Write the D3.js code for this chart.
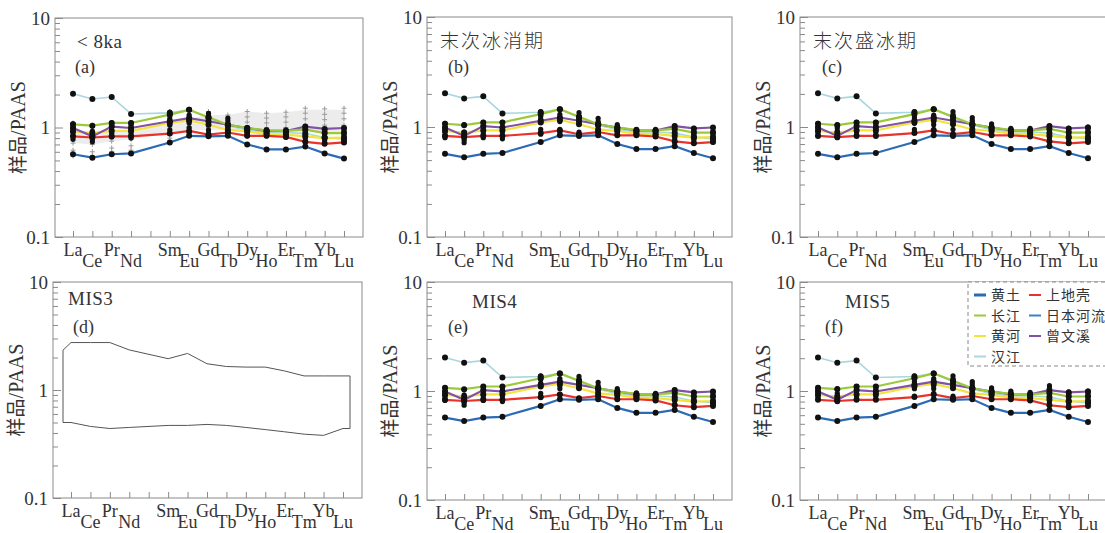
<!DOCTYPE html>
<html>
<head>
<meta charset="utf-8">
<script src="https://cdn.jsdelivr.net/npm/d3@7"></script>
<style>
  body { margin: 0; background: #fff; }
  text { font-family: "Liberation Serif", "DejaVu Serif", serif; fill: #333; }
  .cjk { font-family: "Noto Sans CJK SC", sans-serif; }
</style>
</head>
<body>
<svg id="chart" width="1105" height="533"></svg>
<script>
// element positions on the x axis (Pm has a tick but no data)
const elements = ["La", "Ce", "Pr", "Nd", "Pm", "Sm", "Eu", "Gd", "Tb", "Dy", "Ho", "Er", "Tm", "Yb", "Lu"];
const ree = ["La", "Ce", "Pr", "Nd", "Sm", "Eu", "Gd", "Tb", "Dy", "Ho", "Er", "Tm", "Yb", "Lu"];
const yMajor = [0.1, 1, 10];
const yMinor = [0.2, 0.3, 0.4, 0.5, 0.6, 0.7, 0.8, 0.9, 2, 3, 4, 5, 6, 7, 8, 9];

// reference curves (sample / PAAS)
const refNames  = ["汉江", "黄河", "曾文溪", "长江", "上地壳", "黄土"];
const refColors = ["#a9d6df", "#f3e43c", "#8152a6", "#9cc93a", "#e8322c", "#2c6bb4"];
const refValues = [
  [2.03, 1.82, 1.90, 1.33, 1.36, 1.45, 1.22, 1.04, 0.95, 0.90, 0.90, 0.88, 0.81, 0.78],
  [0.92, 0.89, 0.93, 0.93, 1.10, 1.16, 1.06, 0.95, 0.92, 0.87, 0.86, 0.83, 0.80, 0.81],
  [0.99, 0.83, 1.02, 0.99, 1.14, 1.22, 1.14, 1.06, 0.99, 0.93, 0.93, 1.02, 0.97, 0.99],
  [1.07, 1.04, 1.10, 1.10, 1.31, 1.45, 1.24, 1.06, 0.99, 0.94, 0.93, 0.96, 0.89, 0.89],
  [0.83, 0.81, 0.83, 0.83, 0.88, 0.93, 0.86, 0.90, 0.84, 0.84, 0.82, 0.74, 0.71, 0.73],
  [0.57, 0.53, 0.57, 0.58, 0.73, 0.84, 0.83, 0.84, 0.70, 0.63, 0.63, 0.67, 0.58, 0.52]
];

// legend order as in panel (f)
const legendNames  = ["黄土", "上地壳", "长江", "日本河流", "黄河", "曾文溪", "汉江"];
const legendColors = ["#2c6bb4", "#e8322c", "#9cc93a", "#3a80c6", "#f3e43c", "#8152a6", "#a9d6df"];

// core samples (black dots)
const samplesA = [
  [1.08, 1.03, 1.10, 1.10, 1.38, 1.30, 1.35, 1.22, 0.95, 0.95, 0.95, 1.02, 0.95, 0.95],
  [1.02, 0.92, 1.05, 1.05, 1.30, 1.20, 1.28, 1.15, 0.92, 0.93, 0.92, 0.97, 0.92, 0.90],
  [0.96, 0.88, 1.00, 0.98, 1.20, 1.15, 1.20, 1.08, 0.90, 0.90, 0.90, 0.92, 0.88, 0.85],
  [0.90, 0.82, 0.94, 0.92, 1.12, 1.10, 1.12, 1.00, 0.88, 0.88, 0.87, 0.86, 0.83, 0.80],
  [0.84, 0.78, 0.88, 0.86, 1.05, 1.00, 0.95, 0.95, 0.86, 0.86, 0.84, 0.80, 0.77, 0.77],
  [0.78, 0.74, 0.82, 0.80, 0.95, 0.90, 0.88, 0.90, 0.84, 0.84, 0.82, 0.75, 0.73, 0.74]
];
const samplesB = [
  [1.08, 1.05, 1.10, 1.10, 1.38, 1.30, 1.35, 1.20, 1.05, 0.95, 0.95, 1.02, 0.97, 0.92],
  [1.00, 0.90, 1.02, 1.00, 1.25, 1.22, 1.25, 1.12, 1.00, 0.92, 0.92, 0.95, 0.92, 0.88],
  [0.95, 0.85, 0.97, 0.95, 1.18, 1.16, 1.18, 1.08, 0.95, 0.90, 0.88, 0.90, 0.86, 0.85],
  [0.90, 0.80, 0.92, 0.90, 1.10, 1.12, 1.10, 1.02, 0.92, 0.88, 0.86, 0.85, 0.82, 0.80],
  [0.85, 0.76, 0.86, 0.84, 0.95, 0.95, 0.90, 0.92, 0.88, 0.86, 0.84, 0.78, 0.76, 0.76],
  [0.80, 0.72, 0.80, 0.78, 0.86, 0.90, 0.85, 0.88, 0.86, 0.85, 0.82, 0.73, 0.72, 0.73]
];
const samplesC = [
  [1.08, 1.05, 1.10, 1.10, 1.38, 1.28, 1.38, 1.22, 1.07, 0.97, 0.97, 1.02, 0.97, 1.00],
  [1.02, 0.98, 1.05, 1.05, 1.30, 1.22, 1.30, 1.15, 1.02, 0.94, 0.94, 0.98, 0.93, 0.95],
  [0.97, 0.92, 1.00, 1.00, 1.22, 1.18, 1.22, 1.10, 0.98, 0.92, 0.92, 0.94, 0.90, 0.90],
  [0.92, 0.86, 0.95, 0.95, 1.15, 1.12, 1.15, 1.05, 0.94, 0.90, 0.90, 0.88, 0.85, 0.85],
  [0.88, 0.82, 0.90, 0.90, 1.08, 1.05, 1.08, 1.00, 0.90, 0.88, 0.87, 0.83, 0.80, 0.80],
  [0.84, 0.80, 0.85, 0.85, 0.95, 0.95, 0.95, 0.92, 0.87, 0.85, 0.84, 0.78, 0.74, 0.75]
];
const samplesE = [
  [1.07, 1.03, 1.10, 1.08, 1.38, 1.30, 1.36, 1.20, 1.05, 0.96, 0.95, 1.02, 0.97, 0.98],
  [1.00, 0.92, 1.02, 1.02, 1.28, 1.22, 1.28, 1.12, 1.00, 0.93, 0.93, 0.97, 0.93, 0.93],
  [0.95, 0.86, 0.97, 0.96, 1.18, 1.18, 1.20, 1.08, 0.96, 0.91, 0.90, 0.92, 0.88, 0.88],
  [0.90, 0.82, 0.92, 0.90, 1.10, 1.12, 1.14, 1.02, 0.92, 0.89, 0.87, 0.87, 0.83, 0.82],
  [0.85, 0.78, 0.86, 0.84, 0.95, 1.05, 1.08, 0.98, 0.88, 0.87, 0.85, 0.82, 0.78, 0.78],
  [0.82, 0.74, 0.82, 0.80, 0.87, 0.93, 0.85, 0.90, 0.86, 0.86, 0.83, 0.76, 0.73, 0.75]
];
const samplesF = [
  [1.07, 1.05, 1.10, 1.10, 1.38, 1.30, 1.38, 1.22, 1.07, 1.00, 0.97, 1.12, 0.98, 1.00],
  [1.02, 0.95, 1.05, 1.05, 1.30, 1.22, 1.30, 1.16, 1.03, 0.96, 0.94, 1.05, 0.95, 0.96],
  [0.97, 0.90, 1.00, 1.00, 1.22, 1.18, 1.22, 1.10, 0.99, 0.93, 0.92, 0.98, 0.92, 0.92],
  [0.93, 0.86, 0.95, 0.95, 1.15, 1.12, 1.16, 1.05, 0.95, 0.91, 0.90, 0.92, 0.88, 0.88],
  [0.89, 0.82, 0.90, 0.90, 1.05, 1.05, 1.08, 1.00, 0.91, 0.89, 0.88, 0.85, 0.82, 0.83],
  [0.85, 0.80, 0.86, 0.84, 0.90, 0.95, 0.90, 0.92, 0.88, 0.87, 0.85, 0.78, 0.75, 0.77]
];

// panel (a): grey "+" samples and their shaded range
const plusA = [
  [1.10, 1.05, 1.10, 1.10, 1.40, 1.45, 1.40, 1.30, 1.40, 1.35, 1.38, 1.50, 1.48, 1.50],
  [0.98, 0.95, 1.00, 1.00, 1.25, 1.30, 1.30, 1.20, 1.25, 1.22, 1.25, 1.35, 1.32, 1.35],
  [0.85, 0.80, 0.88, 0.88, 1.10, 1.10, 1.15, 1.10, 1.12, 1.10, 1.12, 1.20, 1.18, 1.20],
  [0.72, 0.70, 0.75, 0.78, 0.95, 0.98, 1.00, 1.00, 1.00, 1.00, 1.00, 1.05, 1.05, 1.05],
  [0.62, 0.60, 0.65, 0.68, 0.85, 0.90, 0.92, 0.92, 0.92, 0.92, 0.90, 0.92, 0.90, 0.92],
  [0.55, 0.55, 0.60, 0.62, 0.80, 0.85, 0.85, 0.88, 0.85, 0.85, 0.82, 0.80, 0.78, 0.80]
];
const bandUpperA = [0.95, 0.92, 0.95, 0.95, 1.10, 1.20, 1.30, 1.30, 1.40, 1.35, 1.38, 1.45, 1.45, 1.45];
const bandLowerA = [0.72, 0.70, 0.75, 0.78, 0.90, 0.95, 0.95, 0.95, 0.95, 0.95, 0.92, 0.90, 0.90, 0.90];

// panel (d): MIS3 range envelope
const envUpperD = [2.75, 2.75, 2.75, 2.35, 1.95, 2.18, 1.75, 1.65, 1.63, 1.63, 1.50, 1.35, 1.35, 1.35];
const envLowerD = [0.50, 0.46, 0.44, 0.45, 0.47, 0.47, 0.48, 0.47, 0.45, 0.43, 0.41, 0.39, 0.38, 0.44];

const panels = [
  { title: "< 8ka", tag: "(a)", x0: 55, x1: 363, y0: 18, y1: 237, tx: 77, ty: 48, gx: 75, gy: 73, cjk: false, samples: samplesA },
  { title: "末次冰消期", tag: "(b)", x0: 427, x1: 732, y0: 17, y1: 237, tx: 440, ty: 48, gx: 448, gy: 73, cjk: true, samples: samplesB },
  { title: "末次盛冰期", tag: "(c)", x0: 800, x1: 1107, y0: 17, y1: 237, tx: 813, ty: 48, gx: 822, gy: 73, cjk: true, samples: samplesC },
  { title: "MIS3", tag: "(d)", x0: 53, x1: 362, y0: 282, y1: 498, tx: 68, ty: 305, gx: 73, gy: 333, cjk: false, samples: null },
  { title: "MIS4", tag: "(e)", x0: 427, x1: 732, y0: 282, y1: 500, tx: 472, ty: 308, gx: 448, gy: 333, cjk: false, samples: samplesE },
  { title: "MIS5", tag: "(f)", x0: 800, x1: 1107, y0: 282, y1: 500, tx: 845, ty: 308, gx: 825, gy: 333, cjk: false, samples: samplesF }
];

const svg = d3.select("#chart");

panels.forEach((p, pi) => {
  const g = svg.append("g");
  const x = d3.scalePoint().domain(elements).range([p.x0 + 18, p.x1 - 19]);
  const y = d3.scaleLog().domain([0.1, 10]).range([p.y1, p.y0]);
  const line = d3.line().x((d, i) => x(ree[i])).y(d => y(d));

  // frame
  g.append("rect")
    .attr("x", p.x0).attr("y", p.y0)
    .attr("width", p.x1 - p.x0).attr("height", p.y1 - p.y0)
    .attr("fill", "none").attr("stroke", "#8a8a8a").attr("stroke-width", 1);

  // y axis, ticks pointing inward
  const yAx = g.append("g").attr("transform", `translate(${p.x0},0)`)
    .call(d3.axisLeft(y).tickValues(yMajor).tickSize(-8).tickPadding(5).tickFormat(d3.format("")));
  yAx.select(".domain").remove();
  yAx.selectAll("line").attr("stroke", "#8a8a8a");
  yAx.selectAll("text").attr("font-size", 19).attr("font-family", "Liberation Serif").attr("fill", "#333");
  const yMin = g.append("g").attr("transform", `translate(${p.x0},0)`)
    .call(d3.axisLeft(y).tickValues(yMinor).tickSize(-5).tickFormat(""));
  yMin.select(".domain").remove();
  yMin.selectAll("line").attr("stroke", "#8a8a8a");

  // x axis, ticks pointing up
  const xAx = g.append("g").attr("transform", `translate(0,${p.y1})`)
    .call(d3.axisBottom(x).tickSize(-6).tickFormat(""));
  xAx.select(".domain").remove();
  xAx.selectAll("line").attr("stroke", "#8a8a8a");

  // element labels on two alternating rows
  g.selectAll(".xl").data(ree).enter().append("text")
    .attr("x", d => x(d))
    .attr("y", (d, i) => p.y1 + (i % 2 === 0 ? 19 : 30))
    .attr("text-anchor", "middle")
    .attr("font-size", 18)
    .text(d => d);

  // y label
  const yl = g.append("text")
    .attr("transform", `translate(${p.x0 - 30},${(p.y0 + p.y1) / 2}) rotate(-90)`)
    .attr("text-anchor", "middle").attr("font-size", 20);
  yl.append("tspan").attr("class", "cjk").attr("font-size", 19).text("样品");
  yl.append("tspan").text("/PAAS");

  // titles
  g.append("text").attr("x", p.tx).attr("y", p.ty)
    .attr("class", p.cjk ? "cjk" : null)
    .attr("font-size", 19)
    .attr("font-weight", p.cjk ? 300 : null)
    .attr("letter-spacing", p.cjk ? 2 : 0.5)
    .text(p.title);
  g.append("text").attr("x", p.gx).attr("y", p.gy)
    .attr("font-size", 18).text(p.tag);

  if (!p.samples) {
    // MIS3 envelope outline
    const pts = [[x("La") - 8, y(envLowerD[0])], [x("La") - 8, y(envUpperD[0] * 0.85)]];
    envUpperD.forEach((v, i) => pts.push([x(ree[i]), y(v)]));
    pts.push([x("Lu") + 7, y(envUpperD[envUpperD.length - 1])]);
    pts.push([x("Lu") + 7, y(envLowerD[envLowerD.length - 1])]);
    envLowerD.slice().reverse().forEach((v, i) => pts.push([x(ree[ree.length - 1 - i]), y(v)]));
    g.append("path").attr("d", "M" + pts.join("L") + "Z")
      .attr("fill", "none").attr("stroke", "#555").attr("stroke-width", 1);
    return;
  }

  if (pi === 0) {
    const area = d3.area().x((d, i) => x(ree[i])).y0((d, i) => y(bandLowerA[i])).y1(d => y(d));
    g.append("path").datum(bandUpperA).attr("d", area).attr("fill", "#ececec");
    plusA.forEach(s => {
      g.selectAll(null).data(s).enter().append("path")
        .attr("d", (d, i) => `M${x(ree[i]) - 2.5},${y(d)}h5M${x(ree[i])},${y(d) - 2.5}v5`)
        .attr("stroke", "#9a9a9a").attr("stroke-width", 1);
    });
  }

  // reference curves
  refValues.forEach((vals, k) => {
    g.append("path").datum(vals).attr("d", line)
      .attr("fill", "none").attr("stroke", refColors[k])
      .attr("stroke-width", k === 0 ? 1.6 : 2.2);
  });

  // sample dots
  p.samples.forEach(s => {
    g.selectAll(null).data(s).enter().append("circle")
      .attr("cx", (d, i) => x(ree[i])).attr("cy", d => y(d)).attr("r", 2.6)
      .attr("fill", "#111");
  });
  refValues.forEach(vals => {
    g.selectAll(null).data(vals).enter().append("circle")
      .attr("cx", (d, i) => x(ree[i])).attr("cy", d => y(d)).attr("r", 3)
      .attr("fill", "#111");
  });

  // legend in panel (f)
  if (pi === 5) {
    const lg = g.append("g");
    lg.append("rect").attr("x", 968).attr("y", p.y0).attr("width", 150).attr("height", 84)
      .attr("fill", "#fff").attr("stroke", "#888").attr("stroke-dasharray", "4,3");
    legendNames.forEach((n, i) => {
      const cx = 974 + (i % 2) * 55;
      const cy = p.y0 + 13 + Math.floor(i / 2) * 20.5;
      lg.append("line").attr("x1", cx).attr("x2", cx + 12).attr("y1", cy).attr("y2", cy)
        .attr("stroke", legendColors[i]).attr("stroke-width", i === 0 ? 3 : 2);
      lg.append("text").attr("class", "cjk").attr("x", cx + 17).attr("y", cy + 5)
        .attr("font-size", 14).attr("letter-spacing", 1).text(n);
    });
  }
});
</script>
</body>
</html>
